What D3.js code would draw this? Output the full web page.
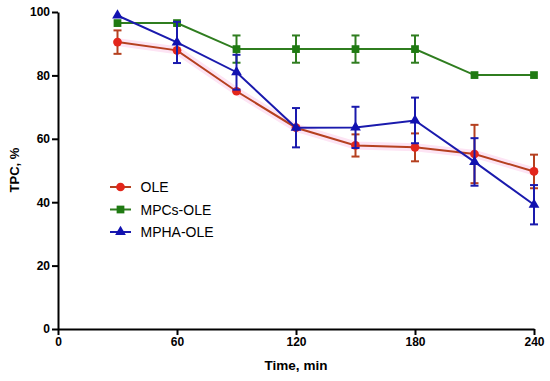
<!DOCTYPE html>
<html>
<head>
<meta charset="utf-8">
<script src="https://cdn.jsdelivr.net/npm/d3@7"></script>
<style>
  body { margin: 0; background: #fff; }
  svg { display: block; font-family: "Liberation Sans", Arial, sans-serif; }
  .axis path, .axis line { stroke: #000; stroke-width: 2; }
  .axis text { font-size: 12px; font-weight: bold; fill: #000; }
</style>
</head>
<body>
<svg id="chart"></svg>
<script>
const times = [30, 60, 90, 120, 150, 180, 210, 240];
const xTicks = [0, 60, 120, 180, 240];
const yTicks = [0, 20, 40, 60, 80, 100];

const oleMean = [90.5, 87.9, 75.0, 63.5, 57.9, 57.3, 55.2, 49.7];
const oleErr = [3.7, 0, 0, 0, 3.5, 4.4, 9.2, 5.3];
const mpcsMean = [96.5, 96.5, 88.3, 88.3, 88.3, 88.3, 80.1, 80.1];
const mpcsErr = [0, 0, 4.3, 4.3, 4.3, 4.3, 0, 0];
const mphaMean = [98.9, 90.4, 81.0, 63.5, 63.6, 65.8, 52.7, 39.2];
const mphaErr = [0, 6.5, 5.5, 6.2, 6.5, 7.2, 7.5, 6.2];

const seriesNames = ['OLE', 'MPCs-OLE', 'MPHA-OLE'];

const series = [
  { name: seriesNames[0], mean: oleMean, err: oleErr, line: '#b5401f', mark: '#e3261b', shape: d3.symbolCircle, size: 60, halo: true },
  { name: seriesNames[1], mean: mpcsMean, err: mpcsErr, line: '#2f7d1f', mark: '#1f7a12', shape: d3.symbolSquare, size: 60 },
  { name: seriesNames[2], mean: mphaMean, err: mphaErr, line: '#1a1aad', mark: '#1212b0', shape: d3.symbolTriangle, size: 50 }
];

const W = 550, H = 381;
const margin = { top: 12, right: 16, bottom: 52, left: 58 };
const width = W - margin.left - margin.right;
const height = H - margin.top - margin.bottom;

const svg = d3.select('#chart').attr('width', W).attr('height', H);
const g = svg.append('g').attr('transform', `translate(${margin.left},${margin.top})`);

const x = d3.scaleLinear().domain([0, 240]).range([0, width]);
const y = d3.scaleLinear().domain([0, 100]).range([height, 0]);

g.append('g')
  .attr('class', 'axis')
  .attr('transform', `translate(0,${height})`)
  .call(d3.axisBottom(x).tickValues(xTicks).tickSize(6).tickSizeOuter(0).tickPadding(2));

g.append('g')
  .attr('class', 'axis')
  .call(d3.axisLeft(y).tickValues(yTicks).tickSize(6).tickSizeOuter(0).tickPadding(2));

g.selectAll('.axis .domain').attr('stroke-width', 2.2);

svg.append('text')
  .attr('x', margin.left + width / 2)
  .attr('y', 370)
  .attr('text-anchor', 'middle')
  .style('font-size', '13.5px')
  .style('font-weight', 'bold')
  .text('Time, min');

svg.append('text')
  .attr('transform', 'translate(19,170) rotate(-90)')
  .attr('text-anchor', 'middle')
  .style('font-size', '13px')
  .style('font-weight', 'bold')
  .text('TPC, %');

const line = d3.line()
  .x((d, i) => x(times[i]))
  .y(d => y(d));

series.forEach(s => {
  const sg = g.append('g');
  if (s.halo) {
    sg.append('path')
      .datum(s.mean)
      .attr('fill', 'none')
      .attr('stroke', '#fde4f4')
      .attr('stroke-width', 8)
      .attr('d', line);
  }
  sg.append('path')
    .datum(s.mean)
    .attr('fill', 'none')
    .attr('stroke', s.line)
    .attr('stroke-width', 2)
    .attr('d', line);

  const eb = sg.selectAll('.err')
    .data(s.mean.map((m, i) => ({ t: times[i], m, e: s.err[i] })).filter(d => d.e > 0))
    .join('g')
    .attr('stroke', s.line)
    .attr('stroke-width', 2);
  eb.append('line')
    .attr('x1', d => x(d.t)).attr('x2', d => x(d.t))
    .attr('y1', d => y(d.m - d.e)).attr('y2', d => y(d.m + d.e));
  eb.append('line')
    .attr('x1', d => x(d.t) - 4).attr('x2', d => x(d.t) + 4)
    .attr('y1', d => y(d.m + d.e)).attr('y2', d => y(d.m + d.e));
  eb.append('line')
    .attr('x1', d => x(d.t) - 4).attr('x2', d => x(d.t) + 4)
    .attr('y1', d => y(d.m - d.e)).attr('y2', d => y(d.m - d.e));

  sg.selectAll('.mark')
    .data(s.mean)
    .join('path')
    .attr('transform', (d, i) => `translate(${x(times[i])},${y(d)})`)
    .attr('d', d3.symbol().type(s.shape).size(s.size))
    .attr('fill', s.mark);
});

// legend
const lg = svg.append('g').attr('transform', 'translate(110,187)');
series.forEach((s, i) => {
  const row = lg.append('g').attr('transform', `translate(0,${i * 22.5})`);
  row.append('line')
    .attr('x1', 0).attr('x2', 21)
    .attr('stroke', s.line).attr('stroke-width', 2);
  row.append('path')
    .attr('transform', 'translate(10.5,0)')
    .attr('d', d3.symbol().type(s.shape).size(s.size))
    .attr('fill', s.mark);
  row.append('text')
    .attr('x', 30.5)
    .attr('y', 5)
    .style('font-size', '14px')
    .text(s.name);
});
</script>
</body>
</html>
